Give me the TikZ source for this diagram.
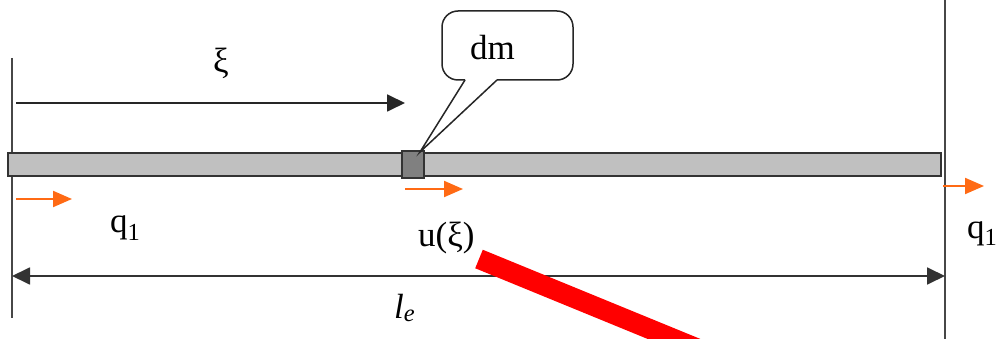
\documentclass[tikz,border=0pt]{standalone}
\usepackage{fontspec}
\setmainfont{Liberation Serif}
\usetikzlibrary{arrows.meta}
\definecolor{orng}{RGB}{255,106,20}
\definecolor{barfill}{RGB}{192,192,192}
\definecolor{dmfill}{RGB}{128,128,128}
\begin{document}
\begin{tikzpicture}[x=1pt,y=-1pt,
  lbl/.style={inner sep=0pt,anchor=base west,font=\fontsize{35}{40}\selectfont},
  wall/.style={draw=black!72,line width=2.5pt},
  blackarrow/.style={draw=black!85,line width=1.8pt,-{Triangle[length=18pt,width=17pt]}},
  dimarrow/.style={draw=black!80,line width=1.8pt,{Triangle[length=18pt,width=17pt]}-{Triangle[length=18pt,width=17pt]}},
  orangearrow/.style={draw=orng,line width=2pt,-{Triangle[length=19pt,width=16pt]}},
  barbox/.style={draw=black!80,line width=2pt,fill=barfill,inner sep=0pt},
  callout/.style={draw=black!85,line width=1.5pt},
]
\useasboundingbox (0,0) rectangle (1001,339);
\fill[white] (0,0) rectangle (1001,339);

% walls
\coordinate (lwt) at (12,58);
\coordinate (lwb) at (12,318);
\coordinate (rwt) at (945,0);
\coordinate (rwb) at (945,339);
\draw[wall] (lwt) -- (lwb);
\draw[wall] (rwt) -- (rwb);

% bar and mass element
\node[barbox,minimum width=933pt,minimum height=23pt] (bar) at (474.5,164.5) {};
\node[barbox,fill=dmfill,minimum width=22pt,minimum height=27pt] (elem) at (413,164.5) {};

% xi arrow
\coordinate (xis) at (16,103);
\coordinate (xie) at (405,103);
\draw[blackarrow] (xis) -- (xie);
\node[lbl] (xi) at (213,73) {ξ};

% callout
\coordinate (cpl) at (465,80);
\coordinate (cpr) at (497,80);
\coordinate (tip) at (420,152);
\draw[callout,rounded corners=16pt] (cpl) -- (442,80) -- (442,11) -- (573,11) -- (573,80) -- (cpr);
\draw[callout] (cpl) -- (tip) -- (cpr);
\node[lbl] (dm) at (470,60) {dm};

% orange arrows
\coordinate (o1s) at (16,199);
\coordinate (o1e) at (72,199);
\coordinate (o2s) at (405,189);
\coordinate (o2e) at (463,189);
\coordinate (o3s) at (943,186);
\coordinate (o3e) at (984,186);
\draw[orangearrow] (o1s) -- (o1e);
\draw[orangearrow] (o2s) -- (o2e);
\draw[orangearrow] (o3s) -- (o3e);

% labels
\node[lbl] (q1l) at (110,233) {q\textsubscript{1}};
\node[lbl] (q1r) at (967,238) {q\textsubscript{1}};
\node[lbl] (u) at (418,246) {u(ξ)};

% dimension
\coordinate (dl) at (12,276);
\coordinate (dr) at (945,276);
\draw[dimarrow] (dl) -- (dr);
\node[lbl] (le) at (394,318) {\textit{l}\textsubscript{\textit{e}}};

% red stroke
\begin{scope}
\clip (0,0) rectangle (1001,339);
\coordinate (rs) at (479,259);
\coordinate (re) at (779,382);
\draw[red,line width=20pt] (rs) -- (re);
\end{scope}
\end{tikzpicture}
\end{document}
